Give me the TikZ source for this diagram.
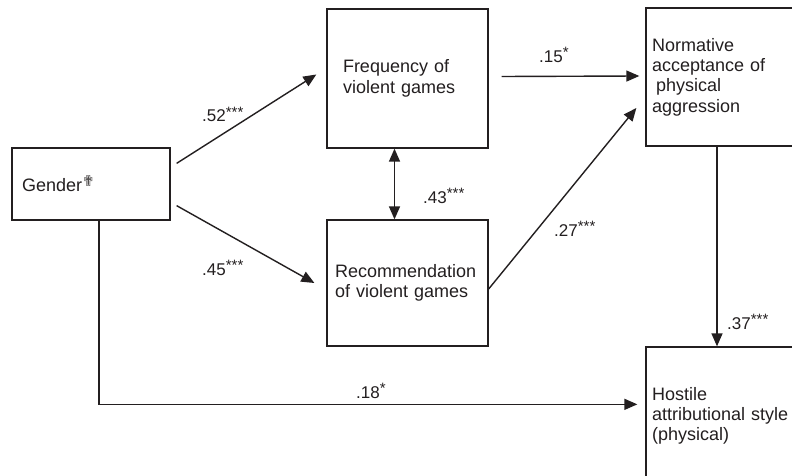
\documentclass[tikz,border=0pt]{standalone}
\usepackage{fontspec}
\setmainfont{Liberation Sans}
\newfontfamily\symfont{DejaVu Sans}
\usetikzlibrary{arrows.meta}
\definecolor{ink}{HTML}{231F20}
\newcommand{\sigstars}[1]{\raisebox{5pt}{\fontsize{15}{15}\selectfont #1}}
\begin{document}
\begin{tikzpicture}[x=1pt,y=-1pt,
  box/.style n args={3}{draw=ink, line width=1.3pt, rectangle, inner sep=0pt,
    minimum width=#1, minimum height=#2, text width=#3, align=left,
    text=ink, font=\fontsize{18}{20.3}\selectfont},
  coef/.style={anchor=base west, inner sep=0pt, text=ink, font=\fontsize{17}{19}\selectfont},
  arr/.style={draw=ink, line width=1.4pt, -{Triangle[length=13pt,width=11pt]}},
  dbl/.style={draw=ink, line width=1.4pt, {Triangle[length=13pt,width=11pt]}-{Triangle[length=13pt,width=11pt]}}]
\clip (0,0) rectangle (792,476);
\fill[white] (0,0) rectangle (792,476);

\node[box={158pt}{72pt}{138pt}] (g) at (91,184) {Gender\raisebox{5pt}{\symfont\fontsize{15}{15}\selectfont\color{ink!80}✟}};
\node[box={161pt}{139pt}{129pt}] (fv) at (407.5,78.5) {Frequency of\\violent games};
\node[box={161pt}{126pt}{145pt}] (rv) at (407.5,283) {Recommendation\\of violent games};
\node[box={154pt}{138pt}{142pt}] (na) at (723,77) {Normative\\acceptance of\\\hspace*{4pt}physical\\aggression};
\node[box={154pt}{138pt}{142pt}] (ha) at (723,416) {Hostile\\attributional style\\(physical)};

\draw[arr] ([xshift=6pt,yshift=-16pt]g.north east) -- ([xshift=-10pt,yshift=4pt]fv.west);
\draw[arr] ([xshift=6pt,yshift=15pt]g.south east) -- ([xshift=-12pt]rv.west);
\draw[arr] ([xshift=13pt,yshift=2pt]fv.east) -- ([xshift=-6pt,yshift=1pt]na.west);
\draw[arr] ([yshift=-6pt]rv.east) -- ([xshift=-9pt,yshift=-31pt]na.west);
\draw[dbl] ([xshift=-13pt]fv.south) -- ([xshift=-13pt]rv.north);
\draw[arr] ([xshift=-6pt]na.south) -- ([xshift=-6pt]ha.north);
\draw[arr] ([xshift=8pt]g.south) |- ([xshift=-8pt,yshift=-58pt]ha.north west);

\node[coef] (c52) at (202,122) {.52\sigstars{***}};
\node[coef] (c45) at (202,275) {.45\sigstars{***}};
\node[coef] (c15) at (539,63) {.15\sigstars{*}};
\node[coef] (c43) at (423,203) {.43\sigstars{***}};
\node[coef] (c27) at (554,236) {.27\sigstars{***}};
\node[coef] (c37) at (727,329) {.37\sigstars{***}};
\node[coef] (c18) at (356,398) {.18\sigstars{*}};
\end{tikzpicture}
\end{document}
